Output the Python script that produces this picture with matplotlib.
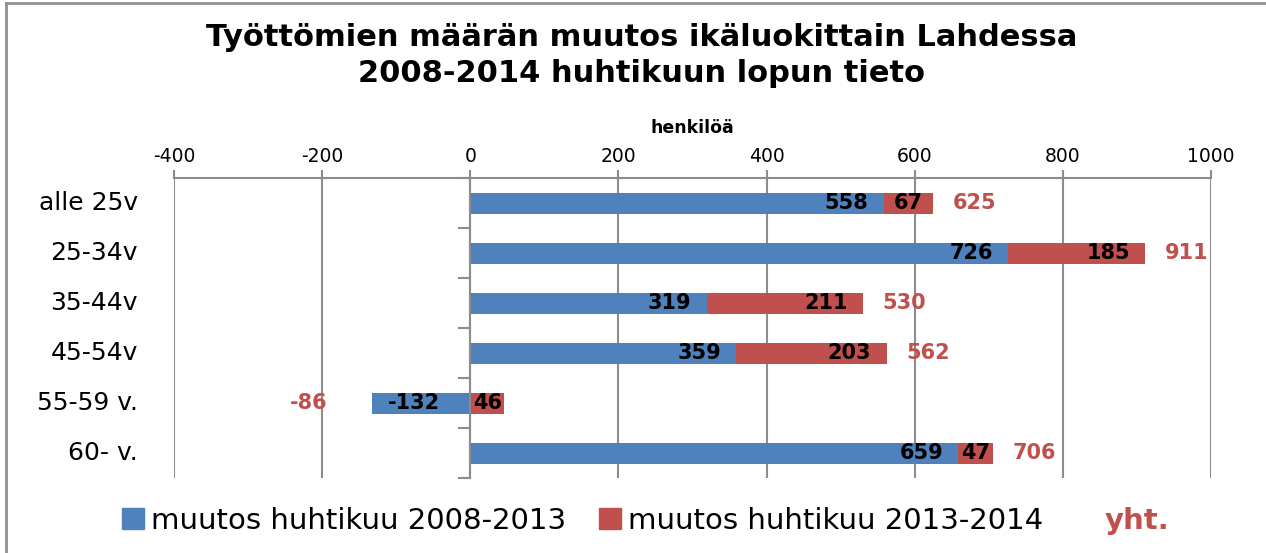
import matplotlib
matplotlib.use("Agg")
import matplotlib.pyplot as plt
from matplotlib.patches import Patch
from matplotlib.lines import Line2D

categories = ["alle 25v", "25-34v", "35-44v", "45-54v", "55-59 v.", "60- v."]
muutos_2008_2013 = [558, 726, 319, 359, -132, 659]
muutos_2013_2014 = [67, 185, 211, 203, 46, 47]
yhteensa = [625, 911, 530, 562, -86, 706]
x_ticks = [-400, -200, 0, 200, 400, 600, 800, 1000]

BLUE = "#4F81BD"
RED = "#C0504D"
GRID = "#8C8C8C"

fig = plt.figure(figsize=(12.66, 5.53), dpi=100)
ax = fig.add_axes([0.1374, 0.1356, 0.8192, 0.5425])

y = list(range(len(categories)))
h = 0.42

# stacking like Excel: positives on positive side, negatives on negative side
pos_end = [0.0] * len(y)
neg_end = [0.0] * len(y)

def stack(values, color):
    lefts = []
    for i, v in enumerate(values):
        if v >= 0:
            lefts.append(pos_end[i])
            pos_end[i] += v
        else:
            lefts.append(neg_end[i])
            neg_end[i] += v
    ax.barh(y, values, left=lefts, height=h, color=color, zorder=3)
    return lefts

l1 = stack(muutos_2008_2013, BLUE)
l2 = stack(muutos_2013_2014, RED)

def label_bars(values, lefts):
    for i, (v, l) in enumerate(zip(values, lefts)):
        if abs(v) < 100:
            ax.text(l + v / 2, i, str(v), ha="center", va="center",
                    fontsize=15, fontweight="bold", zorder=5)
        else:
            end = l + v
            sign = 1 if v > 0 else -1
            ax.annotate(str(v), (end, i), xytext=(-11 * sign, 0),
                        textcoords="offset points",
                        ha="right" if v > 0 else "left", va="center",
                        fontsize=15, fontweight="bold", zorder=5)

label_bars(muutos_2008_2013, l1)
label_bars(muutos_2013_2014, l2)

# totals (yht.)
for i, t in enumerate(yhteensa):
    if t >= 0:
        ax.annotate(str(t), (pos_end[i], i), xytext=(14, 0),
                    textcoords="offset points", ha="left", va="center",
                    fontsize=15, fontweight="bold", color=RED)
    else:
        ax.text(neg_end[i] + t, i, str(t), ha="center", va="center",
                fontsize=15, fontweight="bold", color=RED)

ax.set_xlim(-400, 1000)
ax.set_ylim(len(y) - 0.5, -0.5)
ax.set_xticks(x_ticks)
ax.set_xticklabels([str(v) for v in x_ticks])
ax.xaxis.tick_top()
ax.tick_params(axis="x", length=6, color=GRID, width=1.5, labelsize=13.5, pad=3)
ax.grid(axis="x", color=GRID, linewidth=1.5, zorder=0)

for s in ["right", "bottom"]:
    ax.spines[s].set_visible(False)
ax.spines["top"].set_color(GRID)
ax.spines["top"].set_linewidth(1.5)
ax.spines["left"].set_position(("data", 0))
ax.spines["left"].set_color(GRID)
ax.spines["left"].set_linewidth(1.5)
ax.spines["left"].set_zorder(4)

ax.set_yticks(y)
ax.set_yticklabels([])
ax.tick_params(axis="y", which="major", length=0)
ax.set_yticks([i - 0.5 for i in range(len(y) + 1)], minor=True)
ax.tick_params(axis="y", which="minor", length=9, color=GRID, width=1.5)

for i, c in enumerate(categories):
    ax.text(-0.035, i, c, transform=ax.get_yaxis_transform(), ha="right",
            va="center", fontsize=18)

ax.text(0.5, 1.167, "henkilöä", transform=ax.transAxes, ha="center",
        va="center", fontsize=12.5, fontweight="bold")

fig.text(0.507, 0.90, "Työttömien määrän muutos ikäluokittain Lahdessa\n"
         "2008-2014 huhtikuun lopun tieto", ha="center", va="center",
         fontsize=22, fontweight="bold", linespacing=1.3)

handles = [Patch(color=BLUE), Patch(color=RED), Line2D([], [], alpha=0)]
labels = ["muutos huhtikuu 2008-2013", "muutos huhtikuu 2013-2014", "yht."]
leg = fig.legend(handles, labels, loc="center", bbox_to_anchor=(0.51, 0.058),
                 ncol=3, frameon=False, fontsize=21, handlelength=0.75,
                 handleheight=0.75, handletextpad=0.25, columnspacing=1.1)
leg.get_texts()[2].set_color(RED)
leg.get_texts()[2].set_fontweight("bold")

# chart border (top and left visible)
fig.add_artist(Line2D([0.005, 1.0], [0.995, 0.995], color="#909090",
                      linewidth=2, transform=fig.transFigure))
fig.add_artist(Line2D([0.005, 0.005], [0.0, 0.995], color="#909090",
                      linewidth=2, transform=fig.transFigure))

fig.savefig("out.png", dpi=100)
